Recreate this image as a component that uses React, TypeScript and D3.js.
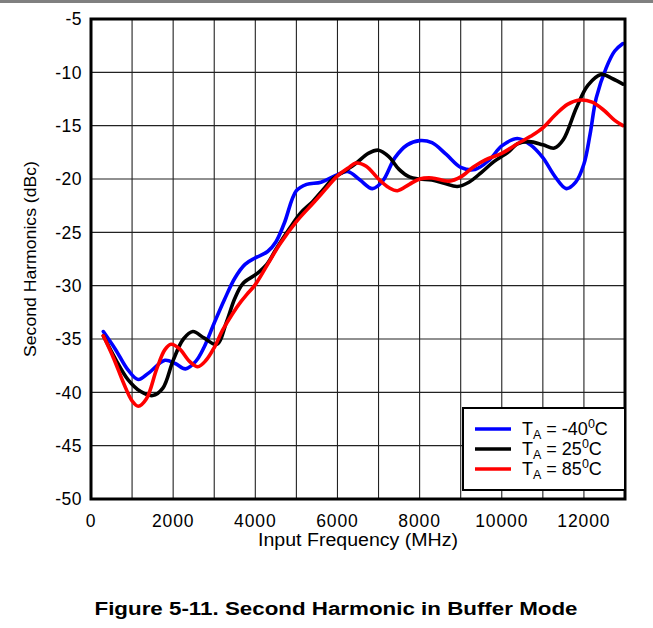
import React from "react";
import * as d3 from "d3";

const blueData: [number, number][] = [
  [300, -34.3], [600, -36.0], [900, -37.9], [1150, -38.8], [1400, -38.2], [1800, -37.0],
  [2050, -37.3], [2300, -37.8], [2550, -37.1], [2750, -35.8], [3000, -33.5], [3250, -31.3],
  [3500, -29.3], [3750, -28.0], [4000, -27.4], [4300, -26.8], [4500, -25.9], [4700, -24.2],
  [5000, -21.1], [5250, -20.5], [5600, -20.3], [6000, -19.6], [6250, -19.3], [6550, -20.1],
  [6850, -20.9], [7100, -20.2], [7400, -18.0], [7700, -16.8], [8000, -16.4], [8300, -16.6],
  [8650, -17.7], [9000, -18.9], [9350, -19.1], [9700, -18.2], [10000, -16.9], [10380, -16.2],
  [10700, -16.8], [11000, -18.0], [11300, -19.8], [11570, -20.9], [11800, -20.3], [12000, -18.6],
  [12150, -15.8], [12300, -12.4], [12540, -9.6], [12750, -8.0], [12950, -7.3],
];

const blackData: [number, number][] = [
  [300, -34.7], [600, -36.9], [900, -38.8], [1200, -39.9], [1500, -40.3], [1750, -39.6],
  [2000, -37.0], [2250, -35.0], [2480, -34.3], [2750, -34.9], [3060, -35.5], [3300, -33.4],
  [3500, -31.2], [3700, -29.8], [4030, -28.9], [4280, -28.0], [4500, -26.6], [4840, -24.6],
  [5100, -23.2], [5400, -22.1], [5650, -21.0], [5880, -20.0], [6200, -19.2], [6460, -18.5],
  [6750, -17.6], [7000, -17.3], [7250, -17.9], [7500, -19.1], [7750, -19.8], [8000, -20.0],
  [8300, -20.1], [8600, -20.4], [8920, -20.7], [9200, -20.3], [9500, -19.4], [9800, -18.4],
  [10180, -17.4], [10380, -16.7], [10670, -16.5], [11000, -16.8], [11280, -17.1], [11500, -16.3],
  [11820, -13.3], [12100, -11.2], [12420, -10.2], [12700, -10.6], [12950, -11.1],
];

const redData: [number, number][] = [
  [300, -34.7], [550, -36.8], [800, -39.2], [1000, -40.8], [1150, -41.3], [1350, -40.6],
  [1600, -37.8], [1800, -36.0], [1950, -35.5], [2150, -35.9], [2400, -37.1], [2600, -37.6],
  [2800, -37.0], [3000, -35.8], [3200, -34.2], [3450, -32.6], [3650, -31.5], [3800, -30.8],
  [4000, -29.9], [4300, -28.0], [4600, -26.1], [5000, -24.0], [5400, -22.3], [5700, -21.0],
  [6000, -19.7], [6250, -19.0], [6460, -18.5], [6700, -18.8], [7000, -20.0], [7250, -20.8],
  [7460, -21.1], [7750, -20.5], [8000, -20.0], [8300, -19.9], [8720, -20.2], [9000, -19.8],
  [9300, -18.9], [9600, -18.2], [10000, -17.6], [10380, -16.7], [10700, -16.0], [11000, -15.2],
  [11300, -14.0], [11600, -13.0], [11900, -12.6], [12200, -12.8], [12500, -13.6], [12750, -14.5],
  [12950, -15.0],
];

const xTickLabels = [0, 2000, 4000, 6000, 8000, 10000, 12000];
const yTickLabels = [-5, -10, -15, -20, -25, -30, -35, -40, -45, -50];
const seriesNames = ["-40", "25", "85"];
const seriesColors = ["#0000ff", "#000000", "#ff0000"];

const W = 653;
const H = 628;
const left = 91;
const right = 625;
const top = 19;
const bottom = 499;

export default function App() {
  const x = d3.scaleLinear().domain([0, 13000]).range([left, right]);
  const y = d3.scaleLinear().domain([-50, -5]).range([bottom, top]);
  const line = d3
    .line<[number, number]>()
    .x((d) => x(d[0]))
    .y((d) => y(d[1]))
    .curve(d3.curveCatmullRom.alpha(0.5));
  const series = [blueData, blackData, redData];
  const xGrid = d3.range(1000, 13000, 1000);
  const yGrid = d3.range(-45, -5, 5);
  const font = "Arial, 'Liberation Sans', sans-serif";

  const lx = 463, ly = 408, lw = 162, lh = 82;

  return (
    <svg
      width={W}
      height={H}
      style={{ position: "absolute", left: 0, top: 0, background: "#fff" }}
    >
      <rect x={0} y={0} width={W} height={3} fill="#808080" />
      <defs>
        <clipPath id="plotclip">
          <rect x={left} y={top} width={right - left} height={bottom - top} />
        </clipPath>
      </defs>
      {xGrid.map((v) => (
        <line key={"xg" + v} x1={x(v)} x2={x(v)} y1={top} y2={bottom} stroke="#222" strokeWidth={1.1} />
      ))}
      {yGrid.map((v) => (
        <line key={"yg" + v} x1={left} x2={right} y1={y(v)} y2={y(v)} stroke="#222" strokeWidth={1.1} />
      ))}
      <g clipPath="url(#plotclip)">
        {series.map((s, i) => (
          <path
            key={i}
            d={line(s) || ""}
            fill="none"
            stroke={seriesColors[i]}
            strokeWidth={3.6}
            strokeLinejoin="round"
            strokeLinecap="round"
          />
        ))}
      </g>
      <rect x={left} y={top} width={right - left} height={bottom - top} fill="none" stroke="#000" strokeWidth={3} />
      {yTickLabels.map((v) => (
        <text key={"yt" + v} x={82} y={y(v)} dy="0.36em" textAnchor="end" fontFamily={font} fontSize={17.5} fill="#000" letterSpacing={0.5}>
          {v}
        </text>
      ))}
      {xTickLabels.map((v) => (
        <text key={"xt" + v} x={x(v)} y={527} textAnchor="middle" fontFamily={font} fontSize={17.5} fill="#000" letterSpacing={0.9}>
          {v}
        </text>
      ))}
      <text x={358} y={546} textAnchor="middle" fontFamily={font} fontSize={17.5} fill="#000" textLength={200} lengthAdjust="spacingAndGlyphs">
        Input Frequency (MHz)
      </text>
      <text
        transform={`translate(36, ${(top + bottom) / 2}) rotate(-90)`}
        textAnchor="middle"
        fontFamily={font}
        fontSize={17}
        fill="#000"
        textLength={196}
        lengthAdjust="spacingAndGlyphs"
      >
        Second Harmonics (dBc)
      </text>
      <rect x={lx} y={ly} width={lw} height={lh} fill="#fff" stroke="#000" strokeWidth={2} />
      {seriesNames.map((n, i) => {
        const yy = ly + 21 + i * 20;
        return (
          <g key={n}>
            <line x1={lx + 12} x2={lx + 48} y1={yy} y2={yy} stroke={seriesColors[i]} strokeWidth={3.6} />
            <text x={lx + 59} y={yy + 6} fontFamily={font} fontSize={18} fill="#000">
              T
              <tspan fontSize={12.5} dy={4}>A</tspan>
              <tspan dy={-4}>{" = " + n}</tspan>
              <tspan fontSize={12.5} dy={-7}>0</tspan>
              <tspan dy={7}>C</tspan>
            </text>
          </g>
        );
      })}
      <text x={336} y={615} textAnchor="middle" fontFamily={font} fontSize={18} fontWeight="bold" fill="#000" textLength={483} lengthAdjust="spacingAndGlyphs">
        Figure 5-11. Second Harmonic in Buffer Mode
      </text>
    </svg>
  );
}
